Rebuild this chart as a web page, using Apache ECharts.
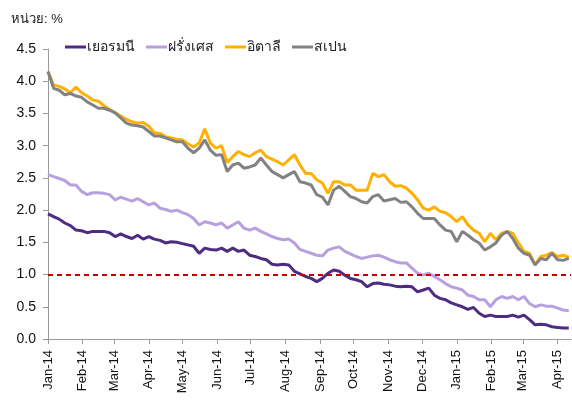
<!DOCTYPE html>
<html>
<head>
<meta charset="utf-8">
<script src="https://cdn.jsdelivr.net/npm/echarts@6/dist/echarts.min.js"></script>
<style>
  html, body { margin: 0; padding: 0; background: #fff; }
  #chart { width: 572px; height: 401px; }
</style>
</head>
<body>
<div id="chart"></div>
<script>
// 10-year government bond yields, sampled every 5 days from 1 Jan 2014
const seriesNames = ['เยอรมนี', 'ฝรั่งเศส', 'อิตาลี', 'สเปน'];
const sampleStepDays = 5;

const germany = [
  1.94, 1.90, 1.86, 1.80, 1.76, 1.69, 1.68, 1.65, 1.67, 1.67, 1.67, 1.65, 1.59, 1.63, 1.59, 1.56,
  1.61, 1.55, 1.59, 1.55, 1.53, 1.49, 1.51, 1.50, 1.48, 1.46, 1.44, 1.33, 1.41, 1.39, 1.38,
  1.41, 1.36, 1.41, 1.36, 1.38, 1.30, 1.28, 1.25, 1.23, 1.16, 1.15, 1.16, 1.15, 1.05, 1.01,
  0.97, 0.94, 0.89, 0.94, 1.02, 1.07, 1.05, 0.99, 0.94, 0.92, 0.89, 0.81, 0.86, 0.87, 0.85,
  0.84, 0.82, 0.81, 0.82, 0.81, 0.73, 0.76, 0.79, 0.68, 0.63, 0.61, 0.56, 0.53, 0.50, 0.46, 0.49,
  0.40, 0.35, 0.37, 0.35, 0.35, 0.35, 0.37, 0.34, 0.37, 0.30, 0.22, 0.23, 0.22, 0.19, 0.18, 0.17, 0.17
];
const france = [
  2.55, 2.52, 2.49, 2.46, 2.39, 2.39, 2.29, 2.24, 2.27, 2.27, 2.26, 2.24, 2.16, 2.20, 2.17, 2.14,
  2.18, 2.13, 2.08, 2.11, 2.03, 2.01, 1.98, 2.00, 1.96, 1.93, 1.87, 1.77, 1.82, 1.80, 1.77,
  1.80, 1.72, 1.77, 1.82, 1.72, 1.69, 1.72, 1.67, 1.63, 1.59, 1.56, 1.54, 1.55, 1.49, 1.39,
  1.36, 1.33, 1.30, 1.29, 1.38, 1.41, 1.43, 1.36, 1.32, 1.28, 1.25, 1.27, 1.29, 1.30, 1.27,
  1.23, 1.20, 1.18, 1.18, 1.10, 1.02, 0.99, 1.02, 0.97, 0.92, 0.86, 0.81, 0.79, 0.76, 0.68, 0.66,
  0.61, 0.61, 0.50, 0.61, 0.66, 0.63, 0.66, 0.61, 0.66, 0.55, 0.50, 0.53, 0.51, 0.51, 0.48, 0.45, 0.44
];
const italy = [
  4.15, 3.94, 3.92, 3.88, 3.82, 3.91, 3.82, 3.77, 3.71, 3.69, 3.62, 3.56, 3.51, 3.46, 3.41, 3.37,
  3.35, 3.36, 3.30, 3.20, 3.19, 3.14, 3.12, 3.10, 3.09, 3.03, 2.98, 3.04, 3.26, 3.04, 2.96,
  3.00, 2.74, 2.83, 2.91, 2.86, 2.83, 2.89, 2.93, 2.83, 2.79, 2.75, 2.70, 2.78, 2.86, 2.70,
  2.57, 2.57, 2.47, 2.42, 2.26, 2.44, 2.44, 2.39, 2.39, 2.31, 2.31, 2.31, 2.57, 2.52, 2.55,
  2.44, 2.37, 2.38, 2.34, 2.26, 2.16, 2.03, 2.00, 2.05, 1.98, 1.96, 1.90, 1.82, 1.90, 1.77, 1.69,
  1.64, 1.51, 1.64, 1.54, 1.64, 1.67, 1.64, 1.49, 1.36, 1.33, 1.15, 1.28, 1.30, 1.34, 1.28, 1.30, 1.27
];
const spain = [
  4.15, 3.89, 3.86, 3.79, 3.81, 3.77, 3.75, 3.68, 3.63, 3.58, 3.58, 3.55, 3.51, 3.43, 3.35, 3.32,
  3.31, 3.29, 3.22, 3.15, 3.15, 3.12, 3.09, 3.06, 3.06, 2.96, 2.89, 2.96, 3.09, 2.93, 2.85,
  2.86, 2.60, 2.70, 2.73, 2.65, 2.67, 2.70, 2.81, 2.70, 2.60, 2.55, 2.50, 2.55, 2.60, 2.44,
  2.42, 2.39, 2.24, 2.20, 2.08, 2.31, 2.37, 2.29, 2.21, 2.18, 2.13, 2.11, 2.21, 2.24, 2.14,
  2.16, 2.18, 2.12, 2.13, 2.05, 1.95, 1.87, 1.87, 1.87, 1.77, 1.69, 1.67, 1.51, 1.67, 1.61, 1.54,
  1.49, 1.38, 1.43, 1.49, 1.61, 1.67, 1.56, 1.41, 1.33, 1.30, 1.15, 1.25, 1.23, 1.33, 1.23, 1.22, 1.25
];

const monthLabels = ['Jan-14', 'Feb-14', 'Mar-14', 'Apr-14', 'May-14', 'Jun-14', 'Jul-14', 'Aug-14',
  'Sep-14', 'Oct-14', 'Nov-14', 'Dec-14', 'Jan-15', 'Feb-15', 'Mar-15', 'Apr-15'];
const yTicks = [0, 0.5, 1, 1.5, 2, 2.5, 3, 3.5, 4, 4.5];
const referenceLevel = 1.0;

const colors = ['#4E2C82', '#B7A0E0', '#FFB000', '#828282'];
const font = 'Liberation Sans, Arial, sans-serif';

const dates = germany.map((_, i) => new Date(2014, 0, 1 + i * sampleStepDays).getTime());
const monthTicks = monthLabels.map((_, i) => new Date(2014, i, 1).getTime());
const labelByTime = {};
monthTicks.forEach((t, i) => { labelByTime[t] = monthLabels[i]; });

const pairs = arr => arr.map((v, i) => [dates[i], v]);
const allValues = [germany, france, italy, spain];

const chart = echarts.init(document.getElementById('chart'), null, { renderer: 'canvas' });

chart.setOption({
  animation: false,
  backgroundColor: '#fff',
  textStyle: { fontFamily: font },
  title: {
    text: 'หน่วย: %',
    left: 6, top: 8,
    textStyle: { fontSize: 13, fontWeight: 'normal', color: '#222', fontFamily: font }
  },
  legend: {
    left: 60, top: 35,
    icon: 'rect',
    itemWidth: 21, itemHeight: 3,
    itemGap: 11,
    textStyle: { fontSize: 14, color: '#222', fontFamily: font, padding: [0, 0, 0, -4] },
    data: seriesNames
  },
  grid: { left: 48, right: 1, top: 49, bottom: 62, outerBoundsMode: 'none', containLabel: false },
  xAxis: {
    type: 'value',
    min: new Date(2014, 0, 1).getTime(),
    max: new Date(2015, 3, 13).getTime(),
    axisLine: { show: true, lineStyle: { color: '#9a9a9a', width: 1 } },
    axisTick: { show: true, length: 5, lineStyle: { color: '#9a9a9a' }, customValues: monthTicks },
    axisLabel: {
      rotate: 90,
      margin: 11,
      fontSize: 13,
      color: '#111',
      fontFamily: font,
      customValues: monthTicks,
      formatter: v => labelByTime[v] || ''
    },
    splitLine: { show: false }
  },
  yAxis: {
    type: 'value',
    min: yTicks[0],
    max: yTicks[yTicks.length - 1],
    interval: 0.5,
    axisLine: { show: true, lineStyle: { color: '#9a9a9a', width: 1 } },
    axisTick: { show: true, length: 5, lineStyle: { color: '#9a9a9a' } },
    axisLabel: { fontSize: 14, color: '#111', margin: 12, fontFamily: font, formatter: v => v.toFixed(1) },
    splitLine: { show: false }
  },
  series: seriesNames.map((name, k) => ({
    name,
    type: 'line',
    data: pairs(allValues[k]),
    symbol: 'none',
    showSymbol: false,
    smooth: false,
    color: colors[k],
    lineStyle: { width: 3, color: colors[k] },
    z: 2 + k,
    markLine: k === 0 ? {
      silent: true,
      symbol: ['none', 'none'],
      label: { show: false },
      lineStyle: { color: '#C00000', type: [5, 4], width: 2 },
      data: [{ yAxis: referenceLevel }]
    } : undefined
  }))
});
</script>
</body>
</html>
